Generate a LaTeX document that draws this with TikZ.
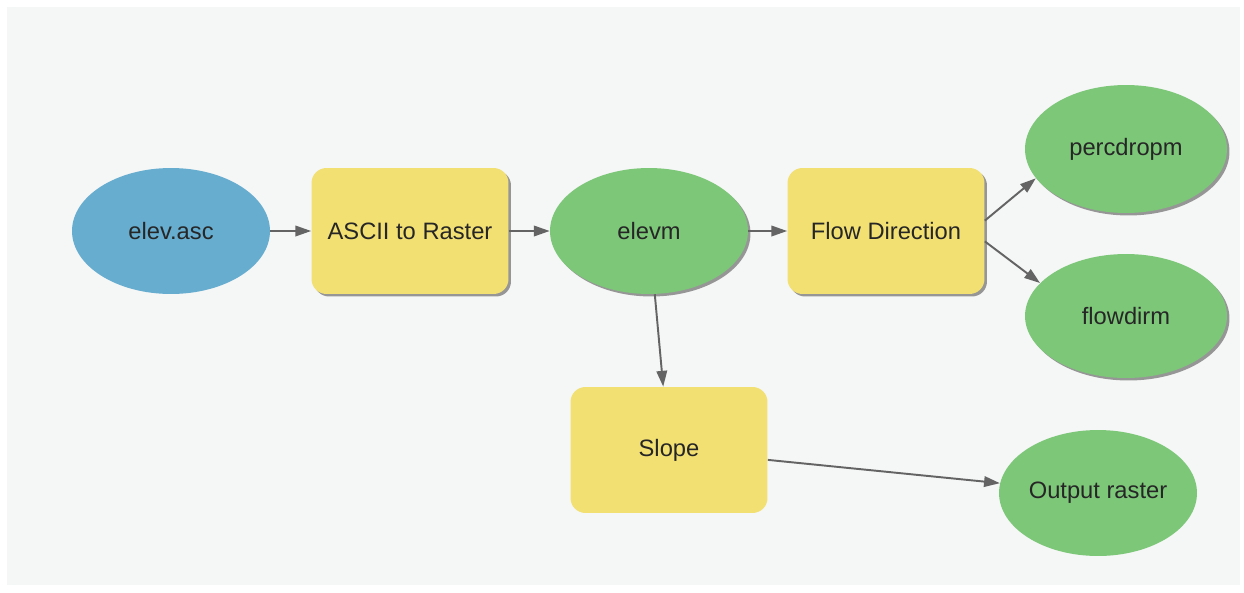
\documentclass[tikz,border=0pt]{standalone}
\usepackage{fontspec}
\setmainfont{Liberation Sans}
\usetikzlibrary{arrows.meta,shapes.geometric,shadows}

\definecolor{panelgray}{RGB}{245,246,246}
\definecolor{inputblue}{RGB}{103,173,207}
\definecolor{datagreen}{RGB}{125,199,121}
\definecolor{toolyellow}{RGB}{242,224,115}
\definecolor{linkgray}{RGB}{100,100,100}

\begin{document}
\begin{tikzpicture}[x=0.02cm, y=-0.02cm,
  every node/.style={font=\fontsize{13.5}{16}\selectfont, text=black!85},
  dataset/.style={ellipse, inner sep=0pt, minimum width=3.96cm, minimum height=2.52cm, fill=datagreen},
  tool/.style={rectangle, rounded corners=0.3cm, minimum width=3.94cm, minimum height=2.52cm, fill=toolyellow},
  lifted/.style={drop shadow={shadow xshift=0.05cm, shadow yshift=-0.05cm, fill=black!45, opacity=0.9}},
  link/.style={draw=linkgray, line width=1.1pt, -{Triangle[length=9pt,width=6pt]}}]
  % Canvas
  \path[use as bounding box, fill=white] (0,0) rectangle (1244,592);
  \fill[panelgray] (7,7) rectangle (1240,585);

  % Main row
  \node[dataset, fill=inputblue] (elevasc) at (171,231) {elev.asc};
  \node[tool, lifted] (ascii) at (410,231) {ASCII to Raster};
  \node[dataset, lifted] (elevm) at (649,231) {elevm};
  \node[tool, lifted] (flowdir) at (886,231) {Flow Direction};

  % Outputs of flow direction
  \node[dataset, lifted, minimum width=4.04cm, minimum height=2.56cm] (percdropm) at (1126,149) {percdropm};
  \node[dataset, lifted, minimum width=4.04cm, minimum height=2.48cm] (flowdirm) at (1126,316) {flowdirm};

  % Slope branch
  \node[tool] (slope) at (669,450) {Slope};
  \node[dataset] (output) at (1098,493) {Output raster};

  % Links
  \draw[link] (elevasc) -- (ascii);
  \draw[link] (ascii) -- (elevm);
  \draw[link] (elevm) -- (flowdir);
  \draw[link] (flowdir.6) -- (percdropm.198);
  \draw[link] (flowdir.-6) -- (flowdirm.159);
  \draw[link] (elevm) -- (slope);
  \draw[link] (slope) -- (output);
\end{tikzpicture}
\end{document}
